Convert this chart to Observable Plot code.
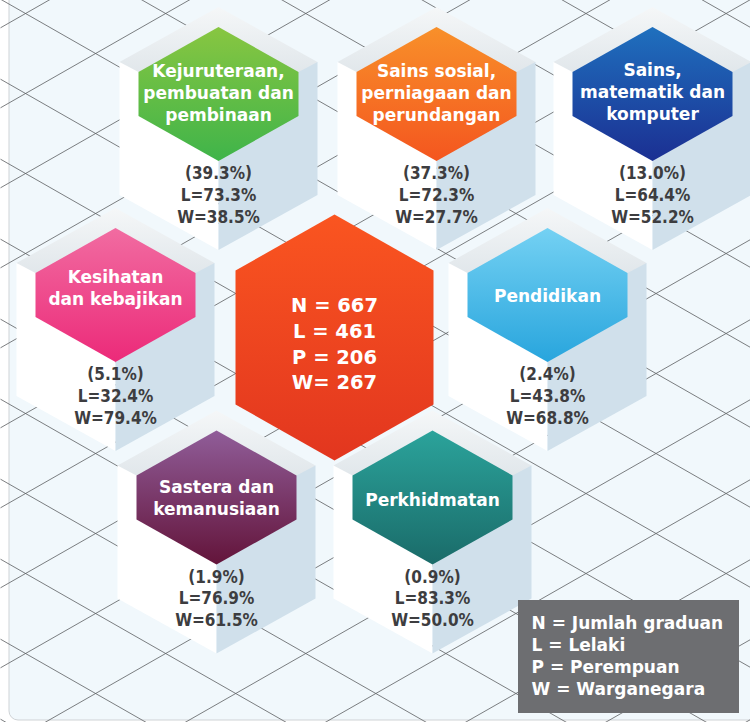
<!DOCTYPE html>
<html><head><meta charset="utf-8">
<script src="https://cdn.jsdelivr.net/npm/d3@7"></script>
<script src="https://cdn.jsdelivr.net/npm/@observablehq/plot@0.6"></script>
<style>body{margin:0;background:#fff;} svg{display:block}</style>
</head><body><div id="chart"></div>
<script>
// ---- data ----
const fieldLabels = [
  "Kejuruteraan,\npembuatan dan\npembinaan",
  "Sains sosial,\nperniagaan dan\nperundangan",
  "Sains,\nmatematik dan\nkomputer",
  "Kesihatan\ndan kebajikan",
  "Pendidikan",
  "Sastera dan\nkemanusiaan",
  "Perkhidmatan"
];
const shares = [39.3, 37.3, 13.0, 5.1, 2.4, 1.9, 0.9];
const lelakiPct = [73.3, 72.3, 64.4, 32.4, 43.8, 76.9, 83.3];
const wargaPct = [38.5, 27.7, 52.2, 79.4, 68.8, 61.5, 50.0];
const totalKeys = ["N", "L", "P", "W"];
const totalValues = [667, 461, 206, 267];
const legendKeys = ["N", "L", "P", "W"];
const legendNames = ["Jumlah graduan", "Lelaki", "Perempuan", "Warganegara"];

// ---- layout & style (not data) ----
const capCenters = [[218,93.5],[436,93.5],[652,93.5],[115,294.5],[547,294.5],[216,497],[432,497]];
const labelDy = [-2,-2,-3,-8,0,-1,1];
const capColors = [["#88c641","#3fb44a"],["#f8902a","#f4561f"],["#1f70be","#1b2f92"],["#f16ca1","#ec2a79"],["#74d1f3","#28a5dd"],["#905d99","#63143a"],["#2ba39b","#1a6b69"]];
const center = {cx: 334, cy: 337, hw: 99, apex: 123, side: 67};
const cap = {hw: 80, apex: 67, side: 22};
const col = {w: 99, top: 87, slant: 55, height: 133};
const legendBox = {x1: 518, x2: 739, y1: 600, y2: 713, tx: 531, ty: 623, lh: 22};

function hex(cx, cy, hw, apex, side, id, fill) {
  const p = [[cx, cy-apex],[cx+hw, cy-side],[cx+hw, cy+side],[cx, cy+apex],[cx-hw, cy+side],[cx-hw, cy-side],[cx, cy-apex]];
  return p.map(([x,y]) => ({x, y, id, fill}));
}
function poly(points, id, fill) {
  return [...points, points[0]].map(([x,y]) => ({x, y, id, fill}));
}
function columnMarks(i) {
  const [cx, cy] = capCenters[i];
  const bt = cy - col.top, sy = bt + col.slant, W = col.w;
  const pts = [
    ...poly([[cx-W, sy],[cx, sy],[cx, sy+col.height+col.slant],[cx-W, sy+col.height]], "l"+i, "#ffffff"),
    ...poly([[cx, sy],[cx+W, sy],[cx+W, sy+col.height],[cx, sy+col.height+col.slant]], "r"+i, "#d0e0eb"),
    ...poly([[cx, bt],[cx+W, sy],[cx+cap.hw, cy-cap.side],[cx-cap.hw, cy-cap.side],[cx-W, sy]], "b"+i, "url(#gBevel)"),
    ...hex(cx, cy, cap.hw, cap.apex, cap.side, "c"+i, `url(#g${i})`)
  ];
  return Plot.line(pts, {x: "x", y: "y", z: "id", fill: "fill", stroke: "none", curve: "linear"});
}

// background grid (decorative)
const k = 0.571, gridLines = [];
for (let n = -14; n <= 4; n++) { const c = 478.7 + 80*n; gridLines.push({x1: 0, y1: c, x2: 760, y2: c + k*760}); }
for (let n = -7; n <= 10; n++) { const d = 507.3 + 80*n; gridLines.push({x1: 0, y1: d, x2: 760, y2: d - k*760}); }

const items = fieldLabels.map((label, i) => ({
  label, x: capCenters[i][0], ly: capCenters[i][1] + labelDy[i],
  sy: capCenters[i][1] + cap.apex + 33,
  stats: `(${shares[i].toFixed(1)}%)\nL=${lelakiPct[i].toFixed(1)}%\nW=${wargaPct[i].toFixed(1)}%`
}));
const centerText = totalKeys.map((key, i) => key + (key === "W" ? "= " : " = ") + totalValues[i]).join("\n");
const legendRows = legendKeys.map((key, i) => ({text: `${key} = ${legendNames[i]}`, y: legendBox.ty + i*legendBox.lh}));

const marks = [
  Plot.rect([0], {x1: 9, x2: 770, y1: -20, y2: 720, rx: 9, fill: "#f1f8fc", stroke: "#cfd3d6"}),
  Plot.link(gridLines, {x1: "x1", y1: "y1", x2: "x2", y2: "y2", stroke: "#5d5f62", strokeWidth: 1, strokeOpacity: 0.8}),
];
for (let i = 0; i < 5; i++) marks.push(columnMarks(i));
marks.push(Plot.line(hex(center.cx, center.cy, center.hw, center.apex, center.side, "center", "url(#gC)"),
  {x: "x", y: "y", z: "id", fill: "fill", stroke: "none"}));
for (let i = 5; i < 7; i++) marks.push(columnMarks(i));
marks.push(
  Plot.text(items, {x: "x", y: "ly", text: "label", fill: "white", fontSize: 17, fontWeight: "bold", fontFamily: "DejaVu Sans", lineHeight: 1.3, lineAnchor: "middle"}),
  Plot.text(items, {x: "x", y: "sy", text: "stats", fill: "#3d3d40", fontSize: 17, fontWeight: "bold", fontFamily: "DejaVu Sans Condensed, DejaVu Sans", fontStretch: "condensed", lineHeight: 1.28, lineAnchor: "middle"}),
  Plot.text([centerText], {x: center.cx, y: center.cy + 5, text: d => d, fill: "white", fontSize: 19.5, fontWeight: "bold", fontFamily: "DejaVu Sans", lineHeight: 1.32, lineAnchor: "middle"}),
  Plot.rect([0], {x1: legendBox.x1, x2: legendBox.x2, y1: legendBox.y1, y2: legendBox.y2, fill: "#6d6e71"}),
  Plot.text(legendRows, {x: legendBox.tx, y: "y", text: "text", fill: "white", fontSize: 17, fontWeight: "bold", fontFamily: "DejaVu Sans", textAnchor: "start", lineAnchor: "middle"})
);

const svg = Plot.plot({
  width: 750, height: 722, margin: 0,
  x: {domain: [0, 750], range: [0, 750], axis: null},
  y: {domain: [0, 722], range: [0, 722], axis: null},
  color: {type: "identity"},
  style: {background: "#ffffff", overflow: "hidden"},
  marks
});

const defs = d3.select(svg).insert("defs", ":first-child");
function grad(id, c1, c2) {
  const g = defs.append("linearGradient").attr("id", id).attr("x1", 0).attr("y1", 0).attr("x2", 0).attr("y2", 1);
  g.append("stop").attr("offset", "0%").attr("stop-color", c1);
  g.append("stop").attr("offset", "100%").attr("stop-color", c2);
}
capColors.forEach(([a, b], i) => grad("g" + i, a, b));
grad("gC", "#fa5520", "#e2361f");
grad("gBevel", "#f5f7f8", "#e1e7eb");
document.getElementById("chart").appendChild(svg);
</script></body></html>
